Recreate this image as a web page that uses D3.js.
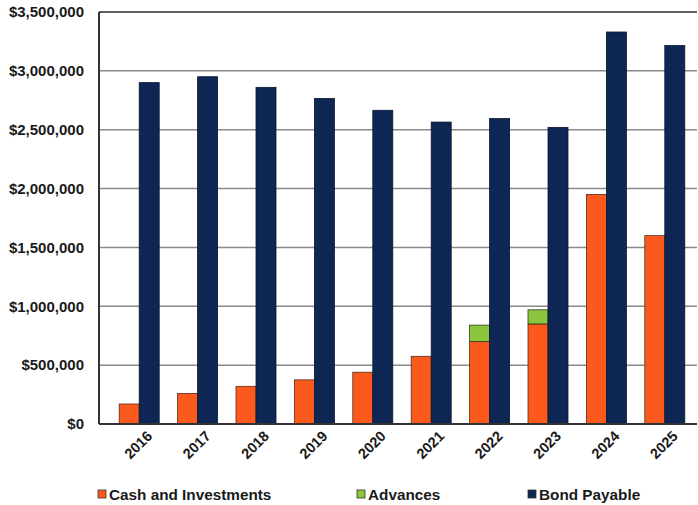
<!DOCTYPE html>
<html>
<head>
<meta charset="utf-8">
<script src="https://cdn.jsdelivr.net/npm/d3@7"></script>
<style>
  html, body { margin: 0; padding: 0; background: #fff; }
  svg { display: block; }
  text { font-family: "Liberation Sans", Arial, sans-serif; font-weight: bold; fill: #1a1a1a; }
</style>
</head>
<body>
<svg id="chart" width="698" height="505"></svg>
<script>
// Fiscal years and balances (dollars)
const years = ["2016", "2017", "2018", "2019", "2020", "2021", "2022", "2023", "2024", "2025"];
const cashAndInvestments = [170000, 260000, 320000, 375000, 440000, 575000, 700000, 850000, 1950000, 1600000];
const advances = [0, 0, 0, 0, 0, 0, 140000, 120000, 0, 0];
const bondPayable = [2900000, 2950000, 2860000, 2765000, 2665000, 2565000, 2595000, 2520000, 3330000, 3215000];
const yTicks = [0, 500000, 1000000, 1500000, 2000000, 2500000, 3000000, 3500000];

const colors = { cash: "#fb5a1c", adv: "#8cc63e", bond: "#0e2654" };

const svg = d3.select("#chart");
const plot = { left: 99, right: 697, top: 12, bottom: 424 };

const y = d3.scaleLinear().domain([0, 3500000]).range([plot.bottom, plot.top]);
const x = d3.scaleBand().domain(years).range([110, 694]).paddingInner(0).paddingOuter(0);
const barW = 20;

// Horizontal gridlines
svg.append("g")
  .selectAll("line")
  .data(yTicks.slice(1))
  .join("line")
  .attr("x1", plot.left).attr("x2", plot.right)
  .attr("y1", d => y(d)).attr("y2", d => y(d))
  .attr("stroke", "#8a8a8a").attr("stroke-width", 1.5);

// Y axis labels
const fmt = d => "$" + d3.format(",")(d);
const yAxis = d3.axisLeft(y).tickValues(yTicks).tickFormat(fmt).tickSize(0).tickPadding(15);
const gy = svg.append("g").attr("transform", `translate(${plot.left},0)`).call(yAxis);
gy.select(".domain").remove();
gy.selectAll("text").style("font-size", "15px").attr("font-family", null).attr("fill", "#1a1a1a");

// Bars
const groups = svg.append("g").selectAll("g")
  .data(years)
  .join("g")
  .attr("transform", d => `translate(${x(d) + x.bandwidth() / 2},0)`);

groups.append("rect")
  .attr("x", -barW).attr("width", barW)
  .attr("y", (d, i) => y(cashAndInvestments[i]))
  .attr("height", (d, i) => y(0) - y(cashAndInvestments[i]))
  .attr("fill", colors.cash).attr("stroke", "#5a2a1a").attr("stroke-width", 0.8);

groups.filter((d, i) => advances[i] > 0).append("rect")
  .attr("x", -barW).attr("width", barW)
  .attr("y", d => { const i = years.indexOf(d); return y(cashAndInvestments[i] + advances[i]); })
  .attr("height", d => { const i = years.indexOf(d); return y(cashAndInvestments[i]) - y(cashAndInvestments[i] + advances[i]); })
  .attr("fill", colors.adv).attr("stroke", "#2c3a1a").attr("stroke-width", 0.8);

groups.append("rect")
  .attr("x", 0).attr("width", barW)
  .attr("y", (d, i) => y(bondPayable[i]))
  .attr("height", (d, i) => y(0) - y(bondPayable[i]))
  .attr("fill", colors.bond).attr("stroke", "#0a1530").attr("stroke-width", 0.8);

// Plot frame
svg.append("line").attr("x1", plot.left).attr("x2", plot.right).attr("y1", plot.top).attr("y2", plot.top)
  .attr("stroke", "#444").attr("stroke-width", 1.5);
svg.append("line").attr("x1", plot.left).attr("x2", plot.left).attr("y1", plot.top).attr("y2", plot.bottom)
  .attr("stroke", "#333").attr("stroke-width", 2);
svg.append("line").attr("x1", plot.left).attr("x2", plot.right).attr("y1", plot.bottom).attr("y2", plot.bottom)
  .attr("stroke", "#333").attr("stroke-width", 2);

// X axis labels, rotated
svg.append("g").selectAll("text")
  .data(years)
  .join("text")
  .attr("transform", d => `translate(${x(d) + x.bandwidth() / 2 + 14},${plot.bottom + 13}) rotate(-45)`)
  .attr("text-anchor", "end")
  .style("font-size", "14.5px")
  .text(d => d);

// Legend
const legend = [
  { label: "Cash and Investments", color: colors.cash, x: 98 },
  { label: "Advances", color: colors.adv, x: 357 },
  { label: "Bond Payable", color: colors.bond, x: 528 }
];
const lg = svg.append("g").selectAll("g").data(legend).join("g")
  .attr("transform", d => `translate(${d.x},489)`);
lg.append("rect").attr("width", 8).attr("height", 8).attr("y", 1)
  .attr("fill", d => d.color).attr("stroke", "#333").attr("stroke-width", 0.8);
lg.append("text").attr("x", 11).attr("y", 10.5).style("font-size", "15.3px").text(d => d.label);
</script>
</body>
</html>
